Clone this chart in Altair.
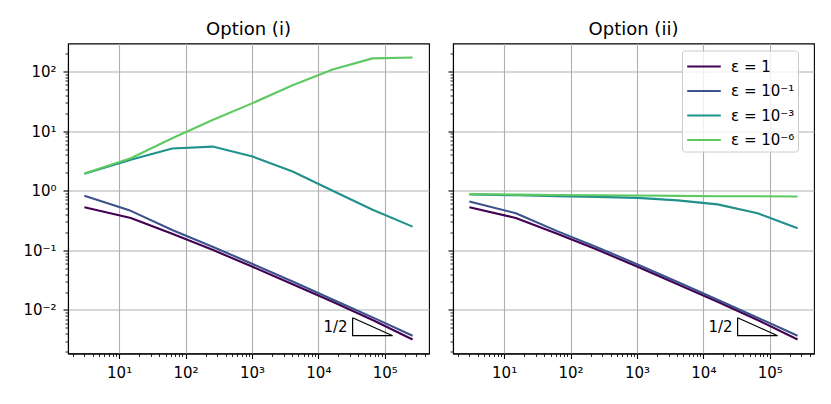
import altair as alt
import pandas as pd

# ---------------- data ----------------
N_DOF = [3, 15, 63, 255, 1023, 4095, 16383, 65535, 262143]
EPS_LABELS = ["ε = 1", "ε = 10⁻¹", "ε = 10⁻³", "ε = 10⁻⁶"]
COLORS = ["#440154", "#3b528b", "#21918c", "#5ec962"]
PANELS = ["Option (i)", "Option (ii)"]

OPT1_EPS0 = [0.53, 0.35, 0.19, 0.102, 0.053, 0.027, 0.0137, 0.0068, 0.0032]
OPT1_EPS1 = [0.82, 0.46, 0.22, 0.115, 0.059, 0.030, 0.0150, 0.0075, 0.0037]
OPT1_EPS3 = [1.92, 3.3, 5.1, 5.5, 3.75, 2.1, 1.0, 0.48, 0.25]
OPT1_EPS6 = [1.95, 3.5, 7.6, 15.4, 29.5, 59.0, 108.0, 166.0, 172.0]

OPT2_EPS0 = [0.53, 0.35, 0.19, 0.102, 0.053, 0.027, 0.0137, 0.0068, 0.0032]
OPT2_EPS1 = [0.66, 0.42, 0.21, 0.112, 0.058, 0.0295, 0.0148, 0.0074, 0.0037]
OPT2_EPS3 = [0.87, 0.84, 0.81, 0.79, 0.76, 0.69, 0.59, 0.42, 0.234]
OPT2_EPS6 = [0.88, 0.86, 0.85, 0.84, 0.83, 0.82, 0.81, 0.81, 0.80]

# slope triangle (closed path) and its label
TRI_X = [32768, 32768, 131072, 32768]
TRI_Y = [0.0074, 0.0037, 0.0037, 0.0074]
TRI_ORDER = [0, 1, 2, 3]
SLOPE_LABEL = "1/2"
SLOPE_LABEL_X = [32768]
SLOPE_LABEL_Y = [0.00523]

X_TICK_LABELS = {1: "10¹", 2: "10²", 3: "10³", 4: "10⁴", 5: "10⁵"}
Y_TICK_LABELS = {-2: "10⁻²", -1: "10⁻¹", 0: "10⁰", 1: "10¹", 2: "10²"}
X_DOMAIN = [1.70, 4.63e5]
Y_DOMAIN = [0.00186, 295.0]

# ---------------- helpers ----------------
def log_ticks(lo, hi):
    vals = []
    for e in range(-4, 7):
        for m in range(1, 10):
            v = float(f"{m}e{e}")
            if lo <= v <= hi:
                vals.append(v)
    return vals

E = "round(log(datum.value)/LN10)"
MAJOR = f"abs(log(datum.value)/LN10 - {E}) < 1e-6"


def label_expr(labels):
    parts = " : ".join(f"({E} == {k}) ? '{v}'" for k, v in labels.items())
    return f"({MAJOR}) ? ({parts} : '') : ''"


def cond(major_val, minor_val):
    return {"condition": {"test": MAJOR, "value": major_val}, "value": minor_val}


FONT = "DejaVu Sans"
common_axis = dict(
    title=None,
    grid=True,
    gridColor="#b0b0b0",
    gridWidth=1.1,
    gridOpacity=cond(1, 0),
    tickSize=cond(5, 3),
    tickWidth=cond(1.1, 0.85),
    tickColor="black",
    domainColor="black",
    domainWidth=1.1,
    labelFont=FONT,
    labelFontSize=15,
    labelColor="black",
    labelOverlap=False,
    labelFlush=False,
    labelBound=False,
)

x_axis = alt.Axis(values=log_ticks(*X_DOMAIN), labelExpr=label_expr(X_TICK_LABELS),
                  labelPadding=7, **common_axis)
y_axis_left = alt.Axis(values=log_ticks(*Y_DOMAIN), labelExpr=label_expr(Y_TICK_LABELS),
                       labelPadding=7, minExtent=54, maxExtent=54, **common_axis)
y_axis_right = alt.Axis(values=log_ticks(*Y_DOMAIN), labels=False,
                        minExtent=5, maxExtent=5, **common_axis)

x_scale = alt.Scale(type="log", domain=X_DOMAIN, nice=False, zero=False)
y_scale = alt.Scale(type="log", domain=Y_DOMAIN, nice=False, zero=False)


def panel_df(series):
    rows = []
    for lab, vals in zip(EPS_LABELS, series):
        for n, v in zip(N_DOF, vals):
            rows.append({"n": n, "err": v, "eps": lab})
    return pd.DataFrame(rows)


tri_df = pd.DataFrame({"n": TRI_X, "err": TRI_Y, "o": TRI_ORDER})
lab_df = pd.DataFrame({"n": SLOPE_LABEL_X, "err": SLOPE_LABEL_Y, "t": [SLOPE_LABEL]})


def make_panel(title, series, y_axis, legend):
    df = panel_df(series)
    lines = alt.Chart(df).mark_line(strokeWidth=2.1, strokeJoin="round", clip=True).encode(
        x=alt.X("n:Q", scale=x_scale, axis=x_axis),
        y=alt.Y("err:Q", scale=y_scale, axis=y_axis),
        color=alt.Color("eps:N", scale=alt.Scale(domain=EPS_LABELS, range=COLORS),
                        legend=legend),
    )
    tri = alt.Chart(tri_df).mark_line(color="black", strokeWidth=1.2).encode(
        x=alt.X("n:Q", scale=x_scale),
        y=alt.Y("err:Q", scale=y_scale),
        order="o:Q",
    )
    txt = alt.Chart(lab_df).mark_text(align="right", baseline="middle", dx=-5,
                                       font=FONT, fontSize=15, color="black").encode(
        x=alt.X("n:Q", scale=x_scale),
        y=alt.Y("err:Q", scale=y_scale),
        text="t:N",
    )
    return alt.layer(lines, tri, txt).properties(
        width=361, height=310,
        title=alt.TitleParams(title, font=FONT, fontSize=18, fontWeight="normal",
                              color="black", offset=4.5, anchor="middle"),
    )


legend = alt.Legend(
    title=None, orient="none", legendX=229, legendY=7, padding=3,
    strokeColor="#cccccc", fillColor="rgba(255,255,255,0.8)", cornerRadius=3,
    labelFont=FONT, labelFontSize=15, labelColor="black", labelLimit=300,
    labelExpr="datum.label + '\u2003\u2002'",
    symbolType="M-1.4,0H1.4", symbolSize=576, symbolStrokeWidth=2,
    rowPadding=3.5, labelOffset=14, symbolOffset=6,
)

left = make_panel(PANELS[0], [OPT1_EPS0, OPT1_EPS1, OPT1_EPS3, OPT1_EPS6], y_axis_left, None)
right = make_panel(PANELS[1], [OPT2_EPS0, OPT2_EPS1, OPT2_EPS3, OPT2_EPS6], y_axis_right, legend)

chart = (
    alt.hconcat(left, right, spacing=16)
    .resolve_scale(color="independent")
    .properties(padding={"left": 5, "top": 11.5, "right": 5, "bottom": 5}, background="white")
    .configure_view(stroke="black", strokeWidth=1.1)
)

chart.save("out.html", embed_options={"renderer": "svg", "actions": False})
